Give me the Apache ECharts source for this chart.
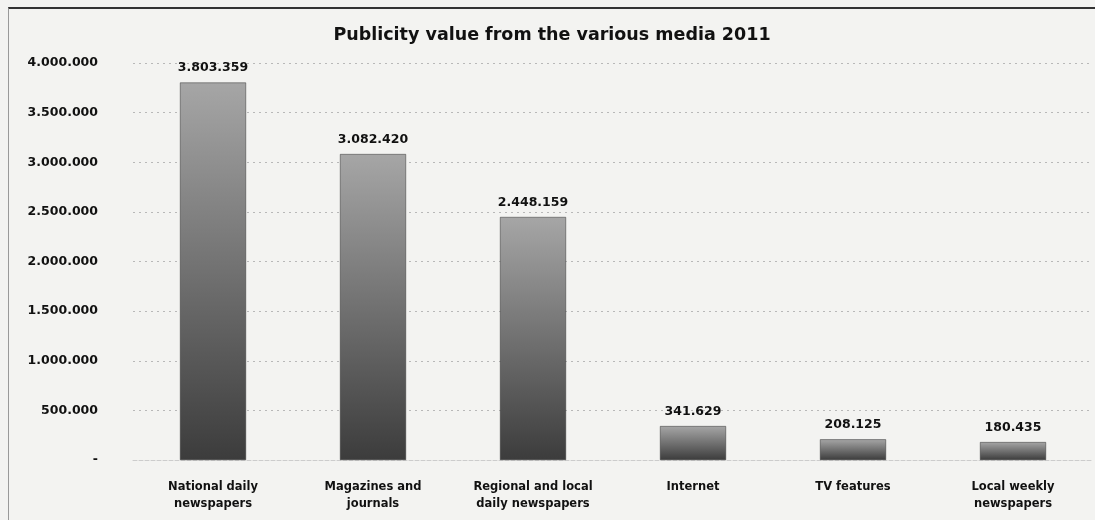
<!DOCTYPE html>
<html><head><meta charset="utf-8">
<script src="https://cdn.jsdelivr.net/npm/echarts@6/dist/echarts.min.js"></script>
<style>
html,body{margin:0;padding:0;background:#f3f3f1;}
#c{position:absolute;left:8px;top:7px;width:1087px;height:513px;border-left:1px solid #999;border-top:2px solid #333;box-sizing:border-box;}
</style></head><body>
<div id="c"></div>
<script>
const categories = ['National daily\nnewspapers','Magazines and\njournals','Regional and local\ndaily newspapers','Internet','TV features','Local weekly\nnewspapers'];
const values = [3803359, 3082420, 2448159, 341629, 208125, 180435];
const title = 'Publicity value from the various media 2011';

function fmt(v){
  if (v === 0) return '-';
  return String(v).replace(/\B(?=(\d{3})+(?!\d))/g, '.');
}
const chart = echarts.init(document.getElementById('c'));
const font = 'DejaVu Sans';
chart.setOption({
  backgroundColor: '#f3f3f1',
  animation: false,
  title: {text: title, left: 'center', top: 12, textStyle: {fontFamily: font, fontWeight: 'bold', fontSize: 17.5, color: '#111'}},
  grid: {left: 124, right: 2, top: 54, bottom: 60},
  xAxis: {
    type: 'category', data: categories,
    axisLine: {show: true, lineStyle: {color: '#ccc', type: 'dashed'}},
    axisTick: {show: false},
    axisLabel: {fontFamily: font, fontWeight: 'bold', fontSize: 11.5, color: '#111', margin: 19, lineHeight: 17, interval: 0}
  },
  yAxis: {
    type: 'value', min: 0, max: 4000000, interval: 500000,
    axisLine: {show: false}, axisTick: {show: false},
    axisLabel: {fontFamily: font, fontWeight: 'bold', fontSize: 12.5, color: '#111', margin: 35, formatter: fmt},
    splitLine: {lineStyle: {color: '#b8b8b8', type: [2, 4], width: 1}}
  },
  series: [{
    type: 'bar', data: values, barWidth: 66,
    itemStyle: {
      color: {type: 'linear', x: 0, y: 0, x2: 0, y2: 1,
        colorStops: [{offset: 0, color: '#a6a6a6'}, {offset: 1, color: '#3c3c3c'}]},
      borderColor: '#333', borderWidth: 0.5
    },
    label: {show: true, position: 'top', distance: 8, formatter: p => fmt(p.value),
      fontFamily: font, fontWeight: 'bold', fontSize: 12.5, color: '#111'}
  }]
});
</script></body></html>
